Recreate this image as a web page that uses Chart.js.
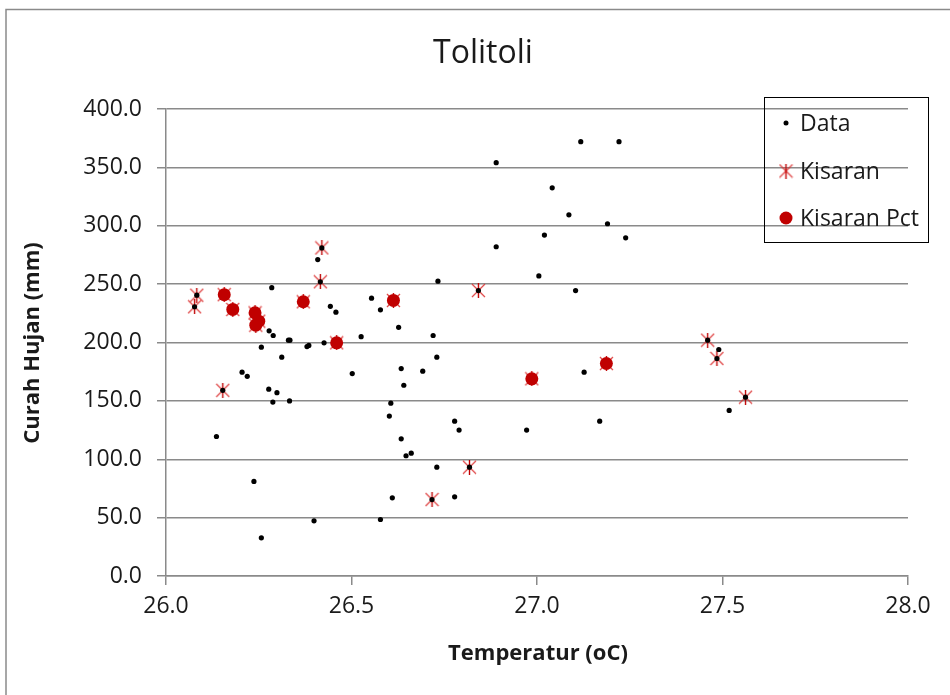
<!DOCTYPE html>
<html>
<head>
<meta charset="utf-8">
<script src="https://cdn.jsdelivr.net/npm/chart.js@4.4.1/dist/chart.umd.min.js"></script>
<style>
  html, body { margin: 0; padding: 0; background: #fff; }
  #wrap { position: relative; width: 950px; height: 695px; }
</style>
</head>
<body>
<div id="wrap"><canvas id="tolChart" width="950" height="695"></canvas></div>
<script>
// values
var dataTemp = [26.89, 26.89, 27.005, 26.409, 26.42, 26.416, 26.733, 26.842, 26.285, 26.083,
	26.077, 26.443, 26.458, 26.554, 26.578, 26.627, 26.526, 26.72, 26.278, 26.289,
	26.33, 26.334, 26.257, 26.38, 26.385, 26.426, 26.312, 26.205, 26.219, 26.153,
	26.277, 26.299, 26.288, 26.333, 26.502, 26.634, 26.692, 26.73, 26.641, 26.606,
	26.602, 26.778, 26.79, 26.972, 26.136, 26.634, 26.647, 26.661, 26.73, 26.818,
	26.237, 26.61, 26.717, 26.778, 26.399, 26.578, 26.257, 27.118, 27.221, 27.041,
	27.086, 27.19, 27.02, 27.239, 27.104, 27.46, 27.49, 27.485, 27.562, 27.518,
	27.127, 27.169];
var dataRain = [354, 282, 257, 271, 281, 252, 252.5, 244.5, 247, 240.5,
	230.6, 231, 226, 238, 228, 213, 205, 206, 210, 206,
	202, 202, 196, 196.5, 197.5, 199.7, 187.4, 174.6, 171, 159,
	160, 157, 149, 150, 173.4, 177.7, 175.4, 187.4, 163.4, 148,
	137, 132.6, 125, 125, 119.5, 117.5, 103, 105.2, 93.2, 93.2,
	81, 67, 65.5, 67.8, 47.3, 48.4, 32.7, 372, 372, 332.5,
	309.4, 301.7, 292, 289.7, 244.5, 202, 194, 186.3, 153.2, 141.8,
	174.6, 132.6];

var kisaranTemp = [26.42, 26.416, 26.842, 26.083, 26.077, 26.153, 26.818, 26.717, 27.46, 27.485,
	27.562, 26.157, 26.18, 26.24, 26.25, 26.242, 26.37, 26.613, 26.46, 26.986, 27.187];
var kisaranRain = [281, 252, 244.5, 240.5, 230.6, 159, 93.2, 65.5, 202, 186.3,
	153.2, 241, 228.3, 225.4, 218.3, 214.8, 234.9, 236, 199.7, 168.9, 182];

var pctTemp = [26.157, 26.18, 26.24, 26.25, 26.242, 26.37, 26.613, 26.46, 26.986, 27.187];
var pctRain = [241, 228.3, 225.4, 218.3, 214.8, 234.9, 236, 199.7, 168.9, 182];

var seriesNames = ['Data', 'Kisaran', 'Kisaran Pct'];
var chartTitle = 'Tolitoli';
var xTitle = 'Temperatur (oC)';
var yTitle = 'Curah Hujan (mm)';

var textColor = '#1a1a1a';
var gridColor = '#8a8a8a';
var FONT = '"Open Sans", "Noto Sans", sans-serif';

function toPoints(xs, ys) {
	var pts = [];
	for (var i = 0; i < xs.length; i++) {
		pts.push({x: xs[i], y: ys[i]});
	}
	return pts;
}

// excel style star marker: X plus a vertical bar
function makeStar(size) {
	var c = document.createElement('canvas');
	c.width = size;
	c.height = size;
	var g = c.getContext('2d');
	var m = 1;
	g.lineWidth = 1.2;
	g.strokeStyle = 'rgba(220,45,45,0.9)';
	g.beginPath();
	g.moveTo(m, m); g.lineTo(size - m, size - m);
	g.moveTo(size - m, m); g.lineTo(m, size - m);
	g.stroke();
	g.strokeStyle = '#c00000';
	g.lineWidth = 1.4;
	g.beginPath();
	g.moveTo(size / 2, 0); g.lineTo(size / 2, size);
	g.stroke();
	return c;
}
var starImg = makeStar(15);

var decorPlugin = {
	id: 'decor',
	beforeDraw: function(chart) {
		var ctx = chart.ctx;
		ctx.save();
		ctx.fillStyle = '#fff';
		ctx.fillRect(0, 0, chart.width, chart.height);
		ctx.strokeStyle = gridColor;
		ctx.lineWidth = 1.5;
		ctx.beginPath();
		ctx.moveTo(6, chart.height);
		ctx.lineTo(6, 9.5);
		ctx.lineTo(chart.width, 9.5);
		ctx.stroke();
		ctx.restore();
	},
	afterDraw: function(chart) {
		var ctx = chart.ctx;
		ctx.save();
		ctx.fillStyle = textColor;
		ctx.textAlign = 'center';
		ctx.textBaseline = 'middle';
		ctx.font = '32px ' + FONT;
		ctx.fillText(chartTitle, 483, 54);

		ctx.font = 'bold 22px ' + FONT;
		ctx.fillText(xTitle, 538, 654);
		ctx.save();
		ctx.translate(33, 343);
		ctx.rotate(-Math.PI / 2);
		ctx.fillText(yTitle, 0, 0);
		ctx.restore();

		// legend
		ctx.strokeStyle = '#000';
		ctx.lineWidth = 1;
		ctx.strokeRect(764.5, 97.5, 164, 145);
		var rows = [123, 171, 218];
		ctx.textAlign = 'left';
		ctx.font = '23px ' + FONT;
		ctx.fillStyle = '#000';
		ctx.beginPath();
		ctx.arc(786, rows[0], 2.5, 0, Math.PI * 2);
		ctx.fill();
		ctx.drawImage(starImg, 786 - 7.5, rows[1] - 7.5);
		ctx.fillStyle = '#c00000';
		ctx.beginPath();
		ctx.arc(786, rows[2], 6.5, 0, Math.PI * 2);
		ctx.fill();
		ctx.fillStyle = textColor;
		for (var i = 0; i < seriesNames.length; i++) {
			ctx.fillText(seriesNames[i], 800, rows[i] + 1);
		}
		ctx.restore();
	}
};

var ctx = document.getElementById('tolChart');
var tolChart = new Chart(ctx, {
	type: 'scatter',
	data: {
		datasets: [
			{
				label: seriesNames[2],
				data: toPoints(pctTemp, pctRain),
				pointStyle: 'circle',
				pointRadius: 6.5,
				backgroundColor: '#c00000',
				borderColor: '#c00000',
				borderWidth: 0,
				order: 0
			},
			{
				label: seriesNames[0],
				data: toPoints(dataTemp, dataRain),
				pointStyle: 'circle',
				pointRadius: 2.6,
				backgroundColor: '#000',
				borderColor: '#000',
				borderWidth: 0,
				order: 1
			},
			{
				label: seriesNames[1],
				data: toPoints(kisaranTemp, kisaranRain),
				pointStyle: starImg,
				order: 2
			}
		]
	},
	options: {
		responsive: false,
		animation: false,
		events: [],
		layout: { padding: { left: 0, top: 109, right: 42, bottom: 0 } },
		plugins: {
			legend: { display: false },
			tooltip: { enabled: false },
			title: { display: false }
		},
		scales: {
			x: {
				type: 'linear',
				min: 26,
				max: 28,
				ticks: {
					stepSize: 0.5,
					padding: 8,
					color: textColor,
					font: { family: FONT, size: 23 },
					callback: function(v) { return v.toFixed(1); }
				},
				grid: { drawOnChartArea: false, drawTicks: true, tickLength: 9, color: gridColor, lineWidth: 1.5 },
				border: { color: gridColor, width: 1.5 },
				afterFit: function(scale) { scale.height = 119; }
			},
			y: {
				min: 0,
				max: 400,
				ticks: {
					stepSize: 50,
					padding: 15,
					color: textColor,
					font: { family: FONT, size: 23 },
					callback: function(v) { return v.toFixed(1); }
				},
				grid: { color: gridColor, tickLength: 9, lineWidth: 1.5 },
				border: { color: gridColor, width: 1.5 },
				afterFit: function(scale) { scale.width = 166; }
			}
		}
	},
	plugins: [decorPlugin]
});
</script>
</body>
</html>
